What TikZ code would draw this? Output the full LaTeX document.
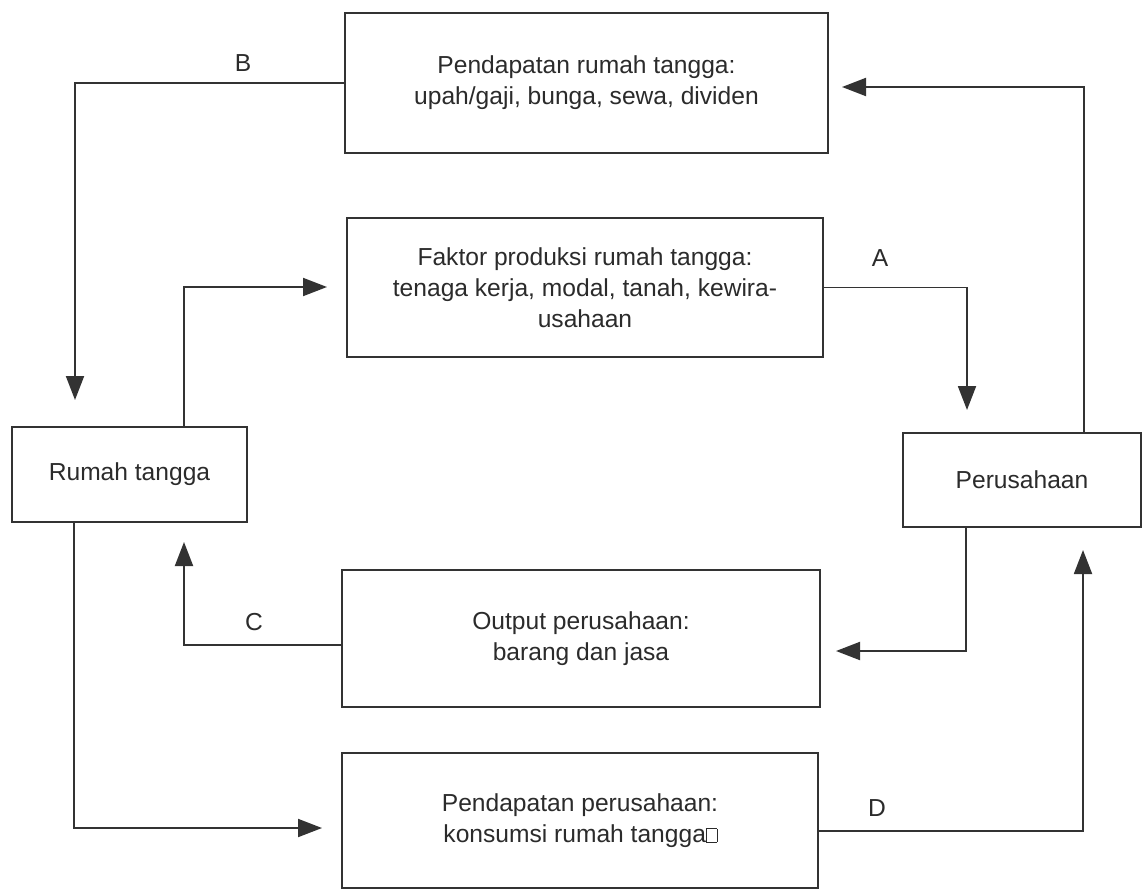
\documentclass[tikz,border=0pt]{standalone}
\usepackage{fontspec}
\setmainfont{Liberation Sans}
\usetikzlibrary{arrows.meta}
\definecolor{ink}{HTML}{2B2B2B}
\definecolor{linec}{HTML}{333333}
\newcommand\gapbox{\kern0.5pt{\setlength{\unitlength}{1pt}\linethickness{0.5pt}\framebox(5.5,7.5){}}}
\begin{document}
\begin{tikzpicture}[x=0.02cm,y=-0.02cm,
  box/.style={draw=linec, line width=1.1pt, fill=white, align=center, text=ink,
    font=\fontsize{14}{17.5}\selectfont, inner sep=0pt},
  arr/.style={draw=linec, line width=1.1pt, -{Triangle[length=0.48cm,width=0.36cm]}},
  lbl/.style={text=ink, font=\fontsize{14}{17}\selectfont, inner sep=0pt}]
\useasboundingbox (0,0) rectangle (1142,892);
\fill[white] (0,0) rectangle (1142,892);

\node[box, minimum width=9.66cm, minimum height=2.8cm] (top) at (586.5,83)
  {Pendapatan rumah tangga:\\upah/gaji, bunga, sewa, dividen};
\node[box, minimum width=9.52cm, minimum height=2.78cm] (fk) at (585,287.5)
  {Faktor produksi rumah tangga:\\tenaga kerja, modal, tanah, kewira-\\usahaan};
\node[box, minimum width=4.7cm, minimum height=1.9cm] (rt) at (129.5,474.5) {Rumah tangga};
\node[box, minimum width=4.76cm, minimum height=1.88cm] (pers) at (1022,480) {Perusahaan};
\node[box, minimum width=9.56cm, minimum height=2.74cm] (out) at (581,638.5)
  {\rule{0pt}{0.3cm}Output perusahaan:\\barang dan jasa};
\node[box, minimum width=9.52cm, minimum height=2.7cm] (bot) at (580,820.5)
  {\rule{0pt}{0.3cm}Pendapatan perusahaan:\\konsumsi rumah tangga\gapbox};

\coordinate (bTip) at (75,400);
\coordinate (k2) at (184,287);
\coordinate (fkTip) at (327,287);
\coordinate (aTip) at (967,410);
\coordinate (k4) at (1084,87);
\coordinate (topTip) at (842,87);
\coordinate (k5) at (966,651);
\coordinate (outTip) at (836,651);
\coordinate (cC) at (184,645);
\coordinate (rtTip) at (184,542);
\coordinate (k7) at (74,828);
\coordinate (botTip) at (322,828);
\coordinate (k8) at (1083,831);
\coordinate (dTip) at (1083,550);

\draw[arr] (top.west) -| (bTip);
\draw[arr] (rt.north -| k2) |- (fkTip);
\draw[arr] (fk.east) -| (aTip);
\draw[arr] (pers.north -| k4) |- (topTip);
\draw[arr] (pers.south -| k5) |- (outTip);
\draw[arr] (out.west |- cC) -| (rtTip);
\draw[arr] (rt.south -| k7) |- (botTip);
\draw[arr] (bot.east |- k8) -| (dTip);

\node[lbl] (lB) at (243,63) {B};
\node[lbl] (lA) at (880,258) {A};
\node[lbl] (lC) at (254,622) {C};
\node[lbl] (lD) at (877,808) {D};
\end{tikzpicture}
\end{document}
